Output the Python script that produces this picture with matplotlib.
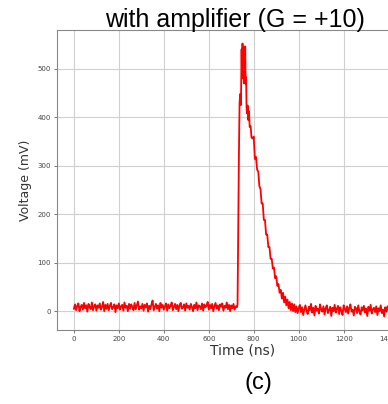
import numpy as np
import matplotlib
matplotlib.use('Agg')
import matplotlib.pyplot as plt

# baseline before the pulse, one reading every 5 ns starting at 0 ns
pre_v = [5, 14, 2, 11, 16, 0, 9, 13, 3, 17, 6, 12, -1, 15, 8, 4, 18, 2, 10, 14,
         1, 12, 7, 16, 3, 9, 19, 0, 13, 5, 15, 2, 11, 17, 4, 8, 14, -2, 12, 6,
         16, 3, 10, 13, 1, 18, 7, 11, 0, 15, 5, 14, 9, 2, 17, 4, 12, 20, 3, 10,
         6, 15, 1, 13, 8, 16, -1, 11, 4, 14, 22, 2, 9, 15, 5, 12, 0, 17, 7, 13,
         3, 10, 16, 1, 14, 6, 11, 18, 2, 9, 15, 4, 13, 0, 12, 17, 5, 8, 14, 1,
         16, 7, 11, 3, 15, 9, 0, 13, 6, 18, 2, 12, 10, 4, 16, 1, 14, 8, 11, 19,
         3, 13, 6, 15, 0, 10, 17, 5, 12, 2, 14, 9, 16, 1, 11, 7, 18, 4, 13, 0,
         12, 6, 15, 3, 10, 8]
pre_t = np.arange(len(pre_v)) * 5

# pulse
pulse_t = [728, 731, 734, 737, 740, 743, 746, 748, 750, 752, 754, 756, 758,
           760, 762, 764, 766, 768, 770, 773, 776, 779, 782, 786, 790, 795, 800,
           805, 810, 815, 820, 825, 830, 835, 840, 845, 850, 855, 860, 865, 870,
           875, 880, 885, 890, 895, 900, 905, 910, 915, 920, 925, 930, 935, 940,
           945, 950, 955, 960, 965, 970, 975, 980, 985]
pulse_v = [14, 180, 320, 430, 448, 425, 540, 480, 552, 500, 545, 470, 538,
           478, 546, 468, 482, 420, 408, 424, 394, 412, 380, 382, 358, 356, 360,
           314, 318, 292, 288, 258, 252, 222, 222, 188, 188, 158, 158, 132, 132,
           108, 108, 88, 90, 68, 72, 52, 56, 38, 44, 26, 38, 18, 30, 12, 24,
           6, 19, 2, 16, 0, 14, -2]

# tail after the pulse, every 5 ns starting at 990 ns
post_v = [10, -4, 6, 13, -2, 8, -8, 4, 12, 0, -6, 9, 2, 15, -3, 7, -9, 11, 1, 5,
          -5, 14, 3, -1, 10, -7, 6, 12, -4, 2, 9, -10, 7, 0, 13, -3, 5, 11, -6, 8,
          1, -8, 12, 4, -2, 10, -5, 7, 14, -1, 3, -9, 9, 6, -4, 12, 0, -7, 8, 2,
          11, -3, 5, -10, 9, 1, 13, -5, 4, 7, -2, 10, -8, 6, 0, 12, -4, 3, -11, 8,
          -1, 10, 2, -6, 13, 5, -3, 9, -7, 4, 11, 0, -5, 7, 1, -9, 12, 3, -2, 8,
          -6, 5, 10]
post_t = 990 + np.arange(len(post_v)) * 5

time = np.concatenate([pre_t, pulse_t, post_t])
volt = np.concatenate([pre_v, pulse_v, post_v])

fig = plt.figure(figsize=(3.88, 4.04), dpi=100)
ax = fig.add_axes([0.147, 0.183, 0.956, 0.743])
ax.plot(time, volt, color='red', lw=1.3)
ax.set_xlim(-75, 1575)
ax.set_ylim(-39, 580)
ax.set_xticks(range(0, 1600, 200))
ax.set_yticks(range(0, 600, 100))
ax.grid(True, color='#d0d0d0', lw=0.8)
ax.tick_params(labelsize=5, length=2.5, width=0.5, colors='#444444', pad=2)
for s in ax.spines.values():
    s.set_color('#888888')
    s.set_linewidth(0.8)

ax.set_xlabel('Time (ns)', fontsize=10, color='#333333', labelpad=1)
ax.set_ylabel('Voltage (mV)', fontsize=9, color='#333333', labelpad=4)
fig.text(0.605, 0.922, 'with amplifier (G = +10)', fontsize=18,
         family='Liberation Sans', ha='center', va='bottom')
fig.text(0.665, 0.052, '(c)', fontsize=17, family='Liberation Sans',
         ha='center', va='center')

fig.savefig('out.png', dpi=100)
